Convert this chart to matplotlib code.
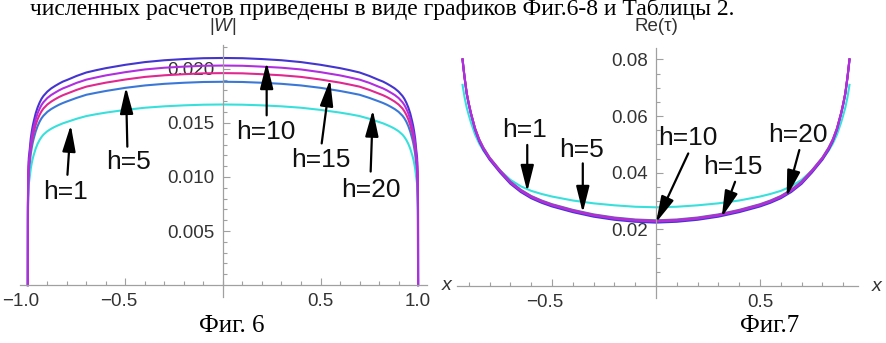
import matplotlib
matplotlib.use('Agg')
import matplotlib.pyplot as plt
import matplotlib.transforms as mtransforms
from matplotlib.ticker import FixedLocator

plt.rcParams['font.family'] = ['Liberation Sans', 'DejaVu Sans']
plt.rcParams['mathtext.fontset'] = 'custom'
plt.rcParams['mathtext.it'] = 'Liberation Sans:italic'

# ---- Фиг. 6 : |W| (x) ----
x6 = [-1.0, -0.9995, -0.998, -0.995, -0.99, -0.985, -0.98, -0.975, -0.97, -0.96, -0.95, -0.94, -0.93, -0.92,
      -0.9, -0.88, -0.86, -0.84, -0.82, -0.8, -0.75, -0.7, -0.65, -0.6, -0.5, -0.4, -0.3, -0.2, -0.1, 0.0,
      0.1, 0.2, 0.3, 0.4, 0.5, 0.6, 0.65, 0.7, 0.75, 0.8, 0.82, 0.84, 0.86, 0.88, 0.9,
      0.92, 0.93, 0.94, 0.95, 0.96, 0.97, 0.975, 0.98, 0.985, 0.99, 0.995, 0.998, 0.9995, 1.0]
w_h1 = [0, 0.00601, 0.00818, 0.00935, 0.01002, 0.01077, 0.01127, 0.01169, 0.01202, 0.01261, 0.01306, 0.01341,
        0.01369, 0.01391, 0.01423, 0.01446, 0.01465, 0.01481, 0.01496, 0.01508, 0.01538, 0.01563, 0.0158,
        0.01595, 0.0162, 0.0164, 0.01653, 0.01662, 0.01668, 0.0167,
        0.01668, 0.01662, 0.01653, 0.0164, 0.0162, 0.01595, 0.0158, 0.01563, 0.01538, 0.01508, 0.01496,
        0.01481, 0.01465, 0.01446, 0.01423, 0.01391, 0.01369, 0.01341, 0.01306, 0.01261, 0.01202, 0.01169,
        0.01127, 0.01077, 0.01002, 0.00935, 0.00818, 0.00601, 0]
w_h5 = [0, 0.00677, 0.00921, 0.01053, 0.01128, 0.01213, 0.01269, 0.01316, 0.01354, 0.01419, 0.0147, 0.0151,
        0.01542, 0.01566, 0.01602, 0.01628, 0.01649, 0.01668, 0.01684, 0.01698, 0.01731, 0.0176, 0.01778,
        0.01795, 0.01824, 0.01846, 0.01861, 0.01871, 0.01878, 0.0188,
        0.01878, 0.01871, 0.01861, 0.01846, 0.01824, 0.01795, 0.01778, 0.0176, 0.01731, 0.01698, 0.01684,
        0.01668, 0.01649, 0.01628, 0.01602, 0.01566, 0.01542, 0.0151, 0.0147, 0.01419, 0.01354, 0.01316,
        0.01269, 0.01213, 0.01128, 0.01053, 0.00921, 0.00677, 0]
w_h10 = [0, 0.00706, 0.0096, 0.01098, 0.01176, 0.01264, 0.01323, 0.01372, 0.01411, 0.0148, 0.01533, 0.01574,
         0.01607, 0.01633, 0.0167, 0.01697, 0.01719, 0.01739, 0.01756, 0.0177, 0.01805, 0.01835, 0.01854,
         0.01872, 0.01901, 0.01925, 0.0194, 0.0195, 0.01958, 0.0196,
         0.01958, 0.0195, 0.0194, 0.01925, 0.01901, 0.01872, 0.01854, 0.01835, 0.01805, 0.0177, 0.01756,
         0.01739, 0.01719, 0.01697, 0.0167, 0.01633, 0.01607, 0.01574, 0.01533, 0.0148, 0.01411, 0.01372,
         0.01323, 0.01264, 0.01176, 0.01098, 0.0096, 0.00706, 0]
w_h15 = [0, 0.00731, 0.00995, 0.01137, 0.01218, 0.01309, 0.0137, 0.01421, 0.01462, 0.01533, 0.01588, 0.0163,
         0.01665, 0.01691, 0.0173, 0.01758, 0.0178, 0.01801, 0.01819, 0.01833, 0.0187, 0.019, 0.0192,
         0.01939, 0.01969, 0.01994, 0.0201, 0.0202, 0.02028, 0.0203,
         0.02028, 0.0202, 0.0201, 0.01994, 0.01969, 0.01939, 0.0192, 0.019, 0.0187, 0.01833, 0.01819,
         0.01801, 0.0178, 0.01758, 0.0173, 0.01691, 0.01665, 0.0163, 0.01588, 0.01533, 0.01462, 0.01421,
         0.0137, 0.01309, 0.01218, 0.01137, 0.00995, 0.00731, 0]
w_h20 = [0, 0.00756, 0.01029, 0.01176, 0.0126, 0.01355, 0.01418, 0.0147, 0.01512, 0.01586, 0.01642, 0.01686,
         0.01722, 0.01749, 0.01789, 0.01819, 0.01842, 0.01863, 0.01882, 0.01896, 0.01934, 0.01966, 0.01987,
         0.02006, 0.02037, 0.02062, 0.02079, 0.0209, 0.02098, 0.021,
         0.02098, 0.0209, 0.02079, 0.02062, 0.02037, 0.02006, 0.01987, 0.01966, 0.01934, 0.01896, 0.01882,
         0.01863, 0.01842, 0.01819, 0.01789, 0.01749, 0.01722, 0.01686, 0.01642, 0.01586, 0.01512, 0.0147,
         0.01418, 0.01355, 0.0126, 0.01176, 0.01029, 0.00756, 0]

# ---- Фиг.7 : Re(tau) (x) ----
x7 = [-0.93, -0.925, -0.92, -0.91, -0.9, -0.89, -0.87, -0.85, -0.83, -0.8, -0.75, -0.7, -0.65, -0.6, -0.55, -0.5,
      -0.45, -0.4, -0.35, -0.3, -0.2, -0.1, 0.0,
      0.1, 0.2, 0.3, 0.35, 0.4, 0.45, 0.5, 0.55, 0.6, 0.65, 0.7, 0.75,
      0.8, 0.83, 0.85, 0.87, 0.89, 0.9, 0.91, 0.92, 0.925, 0.93]
t_h1 = [0.0710, 0.0687, 0.0665, 0.0630, 0.0603, 0.0578, 0.0535, 0.0503, 0.0478, 0.0448, 0.0408, 0.0375, 0.0352,
        0.0336, 0.0325, 0.0316, 0.0309, 0.0302, 0.0297, 0.0292, 0.0285, 0.0280, 0.0278,
        0.0280, 0.0285, 0.0292, 0.0297, 0.0302, 0.0309, 0.0316, 0.0325, 0.0336, 0.0352, 0.0375, 0.0408,
        0.0448, 0.0478, 0.0503, 0.0535, 0.0578, 0.0603, 0.0630, 0.0665, 0.0687, 0.0710]
t_h5 = [0.0798, 0.0764, 0.0733, 0.0679, 0.0643, 0.0611, 0.0557, 0.0518, 0.0489, 0.0454, 0.0409, 0.0369, 0.0340,
        0.0318, 0.0302, 0.0289, 0.0279, 0.0269, 0.0261, 0.0253, 0.0242, 0.0235, 0.0232,
        0.0235, 0.0242, 0.0253, 0.0261, 0.0269, 0.0279, 0.0289, 0.0302, 0.0318, 0.0340, 0.0369, 0.0409,
        0.0454, 0.0489, 0.0518, 0.0557, 0.0611, 0.0643, 0.0679, 0.0733, 0.0764, 0.0798]
t_h10 = [0.080, 0.0766, 0.0735, 0.068, 0.0644, 0.0611, 0.0556, 0.0517, 0.0487, 0.0452, 0.0407, 0.0367, 0.0338,
         0.0316, 0.0300, 0.0287, 0.0277, 0.0267, 0.0259, 0.0251, 0.0240, 0.0233, 0.0230,
         0.0233, 0.0240, 0.0251, 0.0259, 0.0267, 0.0277, 0.0287, 0.0300, 0.0316, 0.0338, 0.0367, 0.0407,
         0.0452, 0.0487, 0.0517, 0.0556, 0.0611, 0.0644, 0.068, 0.0735, 0.0766, 0.080]
t_h15 = [0.080, 0.0766, 0.0735, 0.068, 0.0643, 0.061, 0.0555, 0.0515, 0.0485, 0.0450, 0.0405, 0.0365, 0.0336,
         0.0314, 0.0298, 0.0285, 0.0275, 0.0265, 0.0257, 0.0249, 0.0238, 0.0231, 0.0228,
         0.0231, 0.0238, 0.0249, 0.0257, 0.0265, 0.0275, 0.0285, 0.0298, 0.0314, 0.0336, 0.0365, 0.0405,
         0.0450, 0.0485, 0.0515, 0.0555, 0.061, 0.0643, 0.068, 0.0735, 0.0766, 0.080]
t_h20 = [0.080, 0.0766, 0.0735, 0.068, 0.0641, 0.0608, 0.0552, 0.0511, 0.0481, 0.0446, 0.0401, 0.0361, 0.0332,
         0.0310, 0.0294, 0.0281, 0.0271, 0.0261, 0.0253, 0.0245, 0.0234, 0.0227, 0.0224,
         0.0227, 0.0234, 0.0245, 0.0253, 0.0261, 0.0271, 0.0281, 0.0294, 0.0310, 0.0332, 0.0361, 0.0401,
         0.0446, 0.0481, 0.0511, 0.0552, 0.0608, 0.0641, 0.068, 0.0735, 0.0766, 0.080]

labels = ['h=1', 'h=5', 'h=10', 'h=15', 'h=20']
colors = ['#38e0dc', '#3a78d8', '#e02890', '#b02ee0', '#4434d0']

# label text centre, arrow tail, arrow tip (data coords)
ann6 = [((-0.805, 0.0086), (-0.797, 0.0102), (-0.78, 0.0148)),
        ((-0.486, 0.0114), (-0.49, 0.0128), (-0.497, 0.0183)),
        ((0.219, 0.0142), (0.224, 0.0157), (0.224, 0.0206)),
        ((0.501, 0.0116), (0.506, 0.0131), (0.549, 0.0190)),
        ((0.757, 0.0088), (0.757, 0.0105), (0.768, 0.0162))]
ann7 = [((-0.63, 0.0551), (-0.619, 0.0498), (-0.619, 0.0333)),
        ((-0.357, 0.0480), (-0.352, 0.0433), (-0.352, 0.0259)),
        ((0.155, 0.0521), (0.155, 0.0468), (0.0, 0.0224)),
        ((0.371, 0.0421), (0.38, 0.0368), (0.316, 0.0243)),
        ((0.684, 0.0533), (0.689, 0.0480), (0.628, 0.0315))]

fig = plt.figure(figsize=(8.86, 3.43), dpi=100)
ax1 = fig.add_axes([0.0226, 0.1341, 0.4594, 0.7347])
ax2 = fig.add_axes([0.5155, 0.1312, 0.4529, 0.728])

axis_col = '#a0a0a0'
tick_col = '#333333'
# Mathematica centres the number, the minus sign hangs to the left
minus_shift = mtransforms.ScaledTranslation(-7 / 100, 0, fig.dpi_scale_trans)


def style_axes(ax):
    for s in ['top', 'right']:
        ax.spines[s].set_visible(False)
    ax.spines['left'].set_position(('data', 0))
    ax.spines['bottom'].set_position(('data', 0))
    for s in ['left', 'bottom']:
        ax.spines[s].set_color(axis_col)
        ax.spines[s].set_linewidth(0.9)
    ax.tick_params(which='both', direction='in', color=axis_col, width=0.8,
                   labelcolor=tick_col, labelsize=13.5)
    ax.tick_params(which='major', length=5)
    ax.tick_params(which='minor', length=3)
    ax.tick_params(axis='x', pad=6)
    ax.tick_params(axis='y', pad=6)
    ax.patch.set_alpha(0)


def shift_minus(ax):
    for lbl in ax.get_xticklabels():
        if lbl.get_text().startswith('\u2212'):
            lbl.set_transform(lbl.get_transform() + minus_shift)


# left chart
w_series = [w_h1, w_h5, w_h10, w_h15, w_h20]
for k in [0, 1, 4, 2, 3]:
    ax1.plot(x6, w_series[k], color=colors[k], lw=1.5, solid_joinstyle='round')
ax1.set_xlim(-1.04, 1.046)
ax1.set_ylim(-0.0011, 0.0222)
style_axes(ax1)
ax1.set_xticks([-1.0, -0.5, 0.5, 1.0])
ax1.set_xticklabels(['\u22121.0', '\u22120.5', '0.5', '1.0'])
ax1.xaxis.set_minor_locator(FixedLocator([i / 10 for i in range(-9, 10)]))
ax1.set_yticks([0.005, 0.010, 0.015, 0.020])
ax1.set_yticklabels(['0.005', '0.010', '0.015', '0.020'])
ax1.yaxis.set_minor_locator(FixedLocator([i / 1000 for i in range(1, 23)]))
shift_minus(ax1)
ax1.text(0, 1.075, '|$W$|', transform=ax1.get_xaxis_transform(), ha='center', va='center',
         fontsize=13.5, color=tick_col)
ax1.text(1.049, 0, 'x', transform=ax1.get_yaxis_transform(), ha='center', va='center',
         fontsize=14, color=tick_col, style='italic')
for lab, (tc, tail, tip) in zip(labels, ann6):
    ax1.annotate('', xy=tip, xytext=tail,
                 arrowprops=dict(arrowstyle='-|>,head_length=0.8,head_width=0.2',
                                 mutation_scale=20, lw=1.6, color='black', shrinkA=0, shrinkB=0))
    ax1.text(tc[0], tc[1], lab, ha='center', va='center', fontsize=19, color='#111111')

# right chart
t_series = [t_h1, t_h5, t_h10, t_h15, t_h20]
for k in [0, 1, 4, 2, 3]:
    ax2.plot(x7, t_series[k], color=colors[k], lw=1.5, solid_joinstyle='round')
ax2.set_xlim(-0.958, 0.971)
ax2.set_ylim(-0.0042, 0.0839)
style_axes(ax2)
ax2.set_xticks([-0.5, 0.5])
ax2.set_xticklabels(['\u22120.5', '0.5'])
ax2.xaxis.set_minor_locator(FixedLocator([i / 10 for i in range(-9, 10)]))
ax2.set_yticks([0.02, 0.04, 0.06, 0.08])
ax2.set_yticklabels(['0.02', '0.04', '0.06', '0.08'])
ax2.yaxis.set_minor_locator(FixedLocator([i / 200 for i in range(1, 17)]))
shift_minus(ax2)
ax2.text(0, 1.089, 'Re(\u03c4)', transform=ax2.get_xaxis_transform(), ha='center', va='center',
         fontsize=13.5, color=tick_col)
ax2.text(1.047, 0, 'x', transform=ax2.get_yaxis_transform(), ha='center', va='center',
         fontsize=14, color=tick_col, style='italic')
for lab, (tc, tail, tip) in zip(labels, ann7):
    ax2.annotate('', xy=tip, xytext=tail,
                 arrowprops=dict(arrowstyle='-|>,head_length=0.8,head_width=0.2',
                                 mutation_scale=20, lw=1.6, color='black', shrinkA=0, shrinkB=0))
    ax2.text(tc[0], tc[1], lab, ha='center', va='center', fontsize=19, color='#111111')

# page text around the figures (top line is cut by the crop)
fig.text(30 / 886, 1 - 15 / 343, 'численных расчетов приведены в виде графиков Фиг.6-8 и Таблицы 2.',
         family='Liberation Serif', fontsize=17, ha='left', va='baseline', color='black')
fig.text(232 / 886, 1 - 326 / 343, 'Фиг. 6', family='Liberation Serif', fontsize=18,
         ha='center', va='center', color='black')
fig.text(770 / 886, 1 - 326 / 343, 'Фиг.7', family='Liberation Serif', fontsize=18,
         ha='center', va='center', color='black')

fig.savefig('out.png', dpi=100)
